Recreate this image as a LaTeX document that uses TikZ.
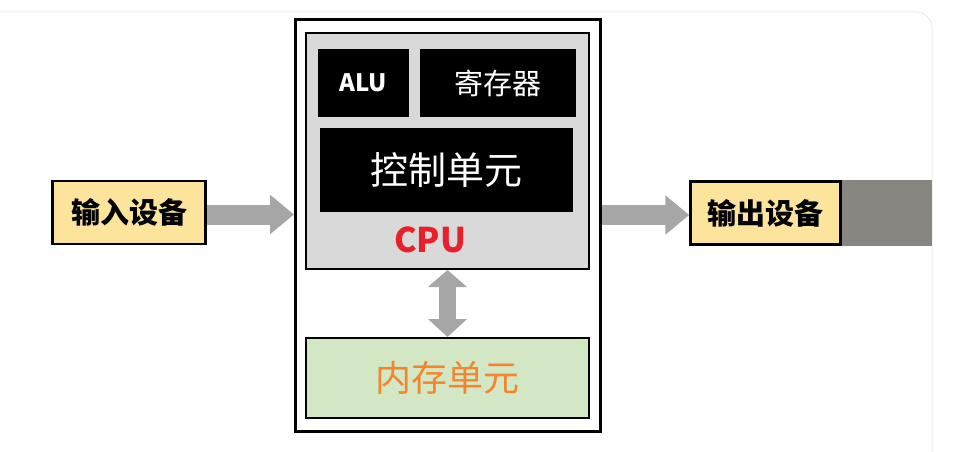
\documentclass[tikz,border=0pt]{standalone}
\usepackage{fontspec}
\newfontfamily\cjk{Noto Sans CJK SC}
\usetikzlibrary{arrows.meta}
\definecolor{devyellow}{HTML}{FCE49C}
\definecolor{cpugray}{HTML}{D9D9D9}
\definecolor{memgreen}{HTML}{D4E7C4}
\definecolor{memorange}{HTML}{F3862C}
\definecolor{cpured}{HTML}{E8202A}
\definecolor{flowgray}{HTML}{A6A6A6}
\definecolor{bargray}{HTML}{86857F}
\definecolor{framegray}{HTML}{ECECEC}

\begin{document}
\begin{tikzpicture}[x=1pt,y=-1pt,inner sep=0pt,
  dev/.style={draw,line width=2.5pt,fill=devyellow,minimum width=153pt,minimum height=63pt,font=\cjk\bfseries\fontsize{29}{29}\selectfont},
  blk/.style={fill=black,text=white},
  flow/.style={draw=flowgray,line width=20pt,-{Triangle[length=24pt 0,width=38pt 0]}},
  both/.style={draw=flowgray,line width=17pt,{Triangle[length=17pt 0,width=38pt 0]}-{Triangle[length=18pt 0,width=38pt 0]}}]
\useasboundingbox (0,0) rectangle (979,452);
\draw [framegray,line width=1pt,rounded corners=16pt] (0,12) -- (932,12) -- (932,452);
\fill [bargray] (838,180) rectangle (932,246);
\draw node [draw,line width=3pt,fill=white,minimum width=305pt,minimum height=412pt] (box) at (448,225.5) {};
\draw node [draw,line width=2pt,fill=cpugray,minimum width=283pt,minimum height=236pt] (cpu) at (447.5,151) {};
\draw node [blk,minimum width=91pt,minimum height=68pt,font=\cjk\bfseries\fontsize{24}{24}\selectfont] (alu) at (363.5,83) {ALU};
\draw node [blk,minimum width=156pt,minimum height=68pt,font=\cjk\fontsize{29}{29}\selectfont] (reg) at (498,83) {\raisebox{-2pt}{寄存器}};
\draw node [blk,minimum width=253pt,minimum height=84pt,font=\cjk\fontsize{38}{38}\selectfont] (ctrl) at (446.5,170) {控制单元};
\draw node [text=cpured,font=\cjk\bfseries\fontsize{34}{34}\selectfont] (cpulbl) at (430,240) {CPU};
\draw node [draw,line width=2pt,fill=memgreen,minimum width=283pt,minimum height=80pt,text=memorange,font=\cjk\fontsize{36}{36}\selectfont] (mem) at (447.5,378) {\raisebox{-3pt}{内存单元}};
\draw node [dev] (in) at (129,212.5) {输入设备};
\draw node [dev,minimum width=150pt] (out) at (765.5,213) {输出设备};
\draw [flow] ([yshift=-2pt]in.east) -- ([yshift=-2pt]in.east -| box.west);
\draw [flow] ([yshift=-2pt]out.west -| box.east) -- ([yshift=-2pt]out.west);
\draw [both] (cpu.south) -- (mem.north);
\end{tikzpicture}
\end{document}
